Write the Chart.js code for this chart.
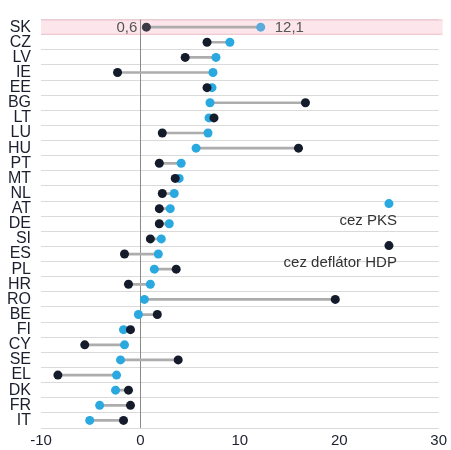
<!DOCTYPE html>
<html>
<head>
<meta charset="utf-8">
<script src="https://cdn.jsdelivr.net/npm/chart.js@4/dist/chart.umd.min.js"></script>
<style>
  html, body { margin: 0; padding: 0; background: #fff; }
  #wrap { width: 451px; height: 450px; position: relative; }
</style>
</head>
<body>
<div id="wrap"><canvas id="chart"></canvas></div>
<script>
// countries, top to bottom
const countries = ['SK', 'CZ', 'LV', 'IE', 'EE', 'BG', 'LT', 'LU', 'HU', 'PT', 'MT', 'NL', 'AT', 'DE',
  'SI', 'ES', 'PL', 'HR', 'RO', 'BE', 'FI', 'CY', 'SE', 'EL', 'DK', 'FR', 'IT'];
// cez PKS (blue)
const viaPks = [12.1, 9.0, 7.6, 7.3, 7.2, 7.0, 6.9, 6.8, 5.6, 4.1, 3.9, 3.4, 3.0, 2.9,
  2.1, 1.8, 1.4, 1.0, 0.4, -0.2, -1.7, -1.6, -2.0, -2.4, -2.5, -4.1, -5.1];
// cez deflátor HDP (black)
const viaDeflator = [0.6, 6.7, 4.5, -2.3, 6.7, 16.6, 7.4, 2.2, 15.9, 1.9, 3.5, 2.2, 1.9, 1.9,
  1.0, -1.6, 3.6, -1.2, 19.6, 1.7, -1.0, -5.6, 3.8, -8.3, -1.2, -1.0, -1.7];
const xTicks = [-10, 0, 10, 20, 30];

const BLUE = '#2aa8e0';
const DARK = '#141b2b';
const highlight = 'SK';

const bgPlugin = {
  id: 'bg',
  beforeDatasetsDraw(chart) {
    const { ctx, chartArea, scales } = chart;
    const y = scales.y;
    const i = countries.indexOf(highlight);
    const half = (y.getPixelForValue(1) - y.getPixelForValue(0)) / 2;
    const cy = y.getPixelForValue(i);
    ctx.save();
    ctx.fillStyle = 'rgba(248, 200, 212, 0.45)';
    ctx.fillRect(chartArea.left, cy - half, chartArea.right - chartArea.left + 4, half * 2);
    ctx.strokeStyle = '#f2c4ce';
    ctx.lineWidth = 1;
    ctx.beginPath();
    ctx.moveTo(chartArea.left, cy - half + 0.5);
    ctx.lineTo(chartArea.right + 4, cy - half + 0.5);
    ctx.moveTo(chartArea.left, cy + half - 0.5);
    ctx.lineTo(chartArea.right + 4, cy + half - 0.5);
    ctx.stroke();
    // zero line
    const x0 = scales.x.getPixelForValue(0);
    ctx.strokeStyle = '#8a8a8a';
    ctx.beginPath();
    ctx.moveTo(Math.round(x0) + 0.5, chartArea.top);
    ctx.lineTo(Math.round(x0) + 0.5, chartArea.bottom);
    ctx.stroke();
    ctx.restore();
  },
  afterDatasetsDraw(chart) {
    const { ctx, chartArea, scales } = chart;
    const x = scales.x, y = scales.y;
    const i = countries.indexOf(highlight);
    const cy = y.getPixelForValue(i);
    ctx.save();
    ctx.font = '15px "Liberation Sans", Arial, sans-serif';
    ctx.fillStyle = '#555555';
    ctx.textBaseline = 'middle';
    ctx.textAlign = 'right';
    ctx.fillText(viaDeflator[i].toFixed(1).replace('.', ','), x.getPixelForValue(viaDeflator[i]) - 9, cy + 1);
    ctx.textAlign = 'left';
    ctx.fillText(viaPks[i].toFixed(1).replace('.', ','), x.getPixelForValue(viaPks[i]) + 14, cy + 1);

    // legend
    const lx = x.getPixelForValue(25);
    const rightEdge = lx + 8;
    const top = chartArea.top;
    ctx.fillStyle = '#333333';
    ctx.textAlign = 'right';
    ctx.textBaseline = 'alphabetic';
    ctx.fillText('cez PKS', rightEdge, top + 205);
    ctx.fillText('cez deflátor HDP', rightEdge, top + 247);
    ctx.beginPath();
    ctx.fillStyle = BLUE;
    ctx.arc(lx, top + 184, 4.5, 0, Math.PI * 2);
    ctx.fill();
    ctx.beginPath();
    ctx.fillStyle = DARK;
    ctx.arc(lx, top + 226, 4.5, 0, Math.PI * 2);
    ctx.fill();
    ctx.restore();
  }
};

const faded = (base, light) => countries.map((c) => (c === highlight ? light : base));

new Chart(document.getElementById('chart'), {
  type: 'bar',
  data: {
    labels: countries,
    datasets: [
      {
        type: 'bar',
        data: countries.map((_, i) => [Math.min(viaPks[i], viaDeflator[i]), Math.max(viaPks[i], viaDeflator[i])]),
        backgroundColor: '#adadad',
        barThickness: 2,
        borderSkipped: false,
        order: 3,
      },
      {
        type: 'line',
        label: 'cez PKS',
        data: countries.map((c, i) => ({ x: viaPks[i], y: c })),
        showLine: false,
        pointRadius: 4.5,
        pointBorderWidth: 0,
        pointBackgroundColor: faded(BLUE, '#5aaadb'),
        order: 2,
      },
      {
        type: 'line',
        label: 'cez deflátor HDP',
        data: countries.map((c, i) => ({ x: viaDeflator[i], y: c })),
        showLine: false,
        pointRadius: 4.5,
        pointBorderWidth: 0,
        pointBackgroundColor: faded(DARK, '#3c3844'),
        order: 1,
      },
    ],
  },
  options: {
    indexAxis: 'y',
    responsive: true,
    maintainAspectRatio: false,
    animation: false,
    layout: { padding: { top: 12, right: 8, left: 0, bottom: 0 } },
    plugins: {
      legend: { display: false },
      tooltip: { enabled: false },
    },
    scales: {
      x: {
        type: 'linear',
        min: -10,
        max: 30,
        afterBuildTicks: (axis) => { axis.ticks = xTicks.map((v) => ({ value: v })); },
        afterFit: (axis) => { axis.height = 22; },
        grid: { display: false, drawTicks: false },
        border: { display: false },
        ticks: {
          color: '#1b1f2e',
          padding: 4,
          font: { family: '"Liberation Sans", Arial, sans-serif', size: 15 },
        },
      },
      y: {
        type: 'category',
        offset: true,
        afterFit: (axis) => { axis.width = 41; },
        grid: { offset: true, color: '#dadada', drawTicks: false },
        border: { display: false },
        ticks: {
          autoSkip: false,
          color: '#1b1f2e',
          padding: 10,
          font: { family: '"Liberation Sans", Arial, sans-serif', size: 16 },
        },
      },
    },
  },
  plugins: [bgPlugin],
});
</script>
</body>
</html>
